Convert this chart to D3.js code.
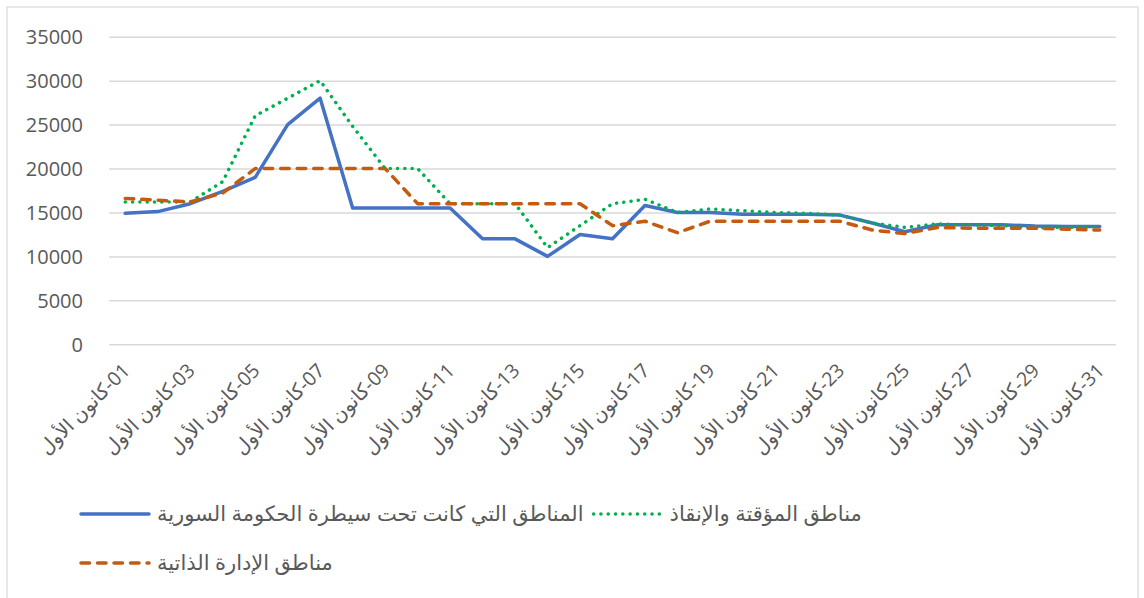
<html>
<head>
<meta charset="utf-8">
<script src="https://d3js.org/d3.v7.min.js"></script>
<style>
  body { margin: 0; background: #fff; }
  text { font-family: "Open Sans", "DejaVu Sans", sans-serif; fill: #595959; }
  .grid line { stroke: #d9d9d9; stroke-width: 1.5; }
  .grid .domain { stroke: none; }
</style>
</head>
<body>
<svg id="chart" width="1144" height="598"></svg>
<script>
// data
const days = ["01","02","03","04","05","06","07","08","09","10","11","12","13","14","15","16",
              "17","18","19","20","21","22","23","24","25","26","27","28","29","30","31"];
const monthName = "كانون الأول";
const yTicks = [0, 5000, 10000, 15000, 20000, 25000, 30000, 35000];

const seriesNames = [
  "المناطق التي كانت تحت سيطرة الحكومة السورية",
  "مناطق المؤقتة والإنقاذ",
  "مناطق الإدارة الذاتية"
];
const govValues = [14900, 15100, 16000, 17400, 19000, 25000, 28000, 15500, 15500, 15500, 15500,
                   12000, 12000, 10000, 12500, 12000, 15800, 15000, 15000, 14800, 14800, 14800,
                   14700, 13800, 12800, 13600, 13600, 13600, 13450, 13400, 13400];
const interimValues = [16200, 16200, 16200, 18500, 26000, 28000, 30000, 24800, 20000, 20000, 16000,
                       16000, 16000, 11000, 13500, 16000, 16500, 15000, 15400, 15200, 15000, 14900,
                       14700, 13800, 13300, 13700, 13600, 13500, 13300, 13300, 13400];
const selfAdminValues = [16600, 16400, 16200, 17200, 20000, 20000, 20000, 20000, 20000, 16000, 16000,
                         16000, 16000, 16000, 16000, 13500, 14000, 12700, 14000, 14000, 14000, 14000,
                         14000, 13000, 12600, 13300, 13200, 13200, 13200, 13100, 13000];

const styles = [
  { color: "#4472C4", dash: null, cap: "round" },
  { color: "#00B050", dash: "0.1,7.2", cap: "round" },
  { color: "#C55A11", dash: "8.5,8", cap: "round" }
];
const allSeries = [govValues, interimValues, selfAdminValues];

const svg = d3.select("#chart");

// outer border
svg.append("rect")
  .attr("x", 7).attr("y", 7)
  .attr("width", 1131).attr("height", 600)
  .attr("fill", "none")
  .attr("stroke", "#d9d9d9")
  .attr("stroke-width", 1.2);

const x = d3.scalePoint()
  .domain(days)
  .range([109, 1116])
  .padding(0.5);

const y = d3.scaleLinear()
  .domain([0, 35000])
  .range([344.3, 36.7]);

// gridlines
svg.append("g")
  .attr("class", "grid")
  .attr("transform", "translate(109,0)")
  .call(d3.axisLeft(y).tickValues(yTicks).tickSize(-1007).tickFormat(""));

// y labels
svg.append("g")
  .selectAll("text")
  .data(yTicks)
  .join("text")
  .attr("x", 83)
  .attr("y", d => y(d))
  .attr("dy", "0.36em")
  .attr("text-anchor", "end")
  .style("font-size", "20px")
  .text(d => d);

// x labels, every other day
svg.append("g")
  .selectAll("text")
  .data(days.filter((d, i) => i % 2 === 0))
  .join("text")
  .attr("transform", d => `translate(${x(d) + 1},${367}) rotate(-45)`)
  .attr("dy", "0.35em")
  .attr("text-anchor", "end")
  .style("font-size", "19.5px")
  .text(d => "\u200F" + d + "-" + monthName);

// lines
const line = d3.line()
  .x((d, i) => x(days[i]))
  .y(d => y(d));

svg.append("g")
  .selectAll("path")
  .data(allSeries)
  .join("path")
  .attr("d", d => line(d))
  .attr("fill", "none")
  .attr("stroke", (d, i) => styles[i].color)
  .attr("stroke-width", 3.5)
  .attr("stroke-linejoin", "round")
  .attr("stroke-linecap", (d, i) => styles[i].cap)
  .attr("stroke-dasharray", (d, i) => styles[i].dash);

// legend
const legendRows = [[0, 1], [2]];
const legendY = [514, 563];
legendRows.forEach((row, r) => {
  let cx = 81;
  row.forEach(k => {
    const g = svg.append("g");
    g.append("line")
      .attr("x1", cx).attr("x2", cx + 68)
      .attr("y1", legendY[r]).attr("y2", legendY[r])
      .attr("stroke", styles[k].color)
      .attr("stroke-width", 3.5)
      .attr("stroke-linecap", styles[k].cap)
      .attr("stroke-dasharray", styles[k].dash);
    const t = g.append("text")
      .attr("x", cx + 76)
      .attr("y", legendY[r])
      .attr("dy", "0.35em")
      .style("font-size", "21px")
      .text(seriesNames[k]);
    cx = cx + 76 + t.node().getComputedTextLength() + 10;
  });
});
</script>
</body>
</html>
